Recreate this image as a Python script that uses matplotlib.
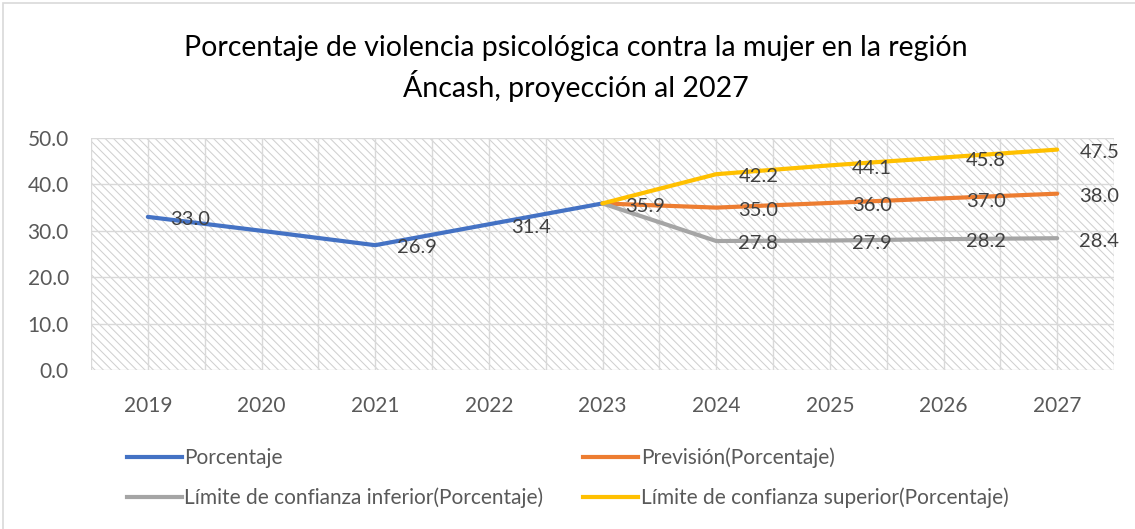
import numpy as np
import matplotlib.pyplot as plt
from matplotlib.patches import Rectangle
from matplotlib.lines import Line2D

plt.rcParams["font.family"] = ["Lato", "DejaVu Sans"]
plt.rcParams["hatch.linewidth"] = 0.75

# ---- data ----
years = ["2019", "2020", "2021", "2022", "2023", "2024", "2025", "2026", "2027"]
porcentaje = [33.0, 30.0, 26.9, 31.4, 35.9, np.nan, np.nan, np.nan, np.nan]
prevision = [np.nan, np.nan, np.nan, np.nan, 35.9, 35.0, 36.0, 37.0, 38.0]
lim_inf = [np.nan, np.nan, np.nan, np.nan, 35.9, 27.8, 27.9, 28.2, 28.4]
lim_sup = [np.nan, np.nan, np.nan, np.nan, 35.9, 42.2, 44.1, 45.8, 47.5]
yticks = [0, 10, 20, 30, 40, 50]

series = [
    ("Porcentaje", porcentaje, "#4472C4", [0, 2, 3]),
    ("Previsión(Porcentaje)", prevision, "#ED7D31", [4, 5, 6, 7, 8]),
    ("Límite de confianza inferior(Porcentaje)", lim_inf, "#A5A5A5", [5, 6, 7, 8]),
    ("Límite de confianza superior(Porcentaje)", lim_sup, "#FFC000", [5, 6, 7, 8]),
]

fig = plt.figure(figsize=(11.35, 5.29), dpi=100)
ax = fig.add_axes([91 / 1135, 1 - 370 / 529, (1114 - 91) / 1135, (370 - 138) / 529])

# hatched plot area
ax.add_patch(Rectangle((0, 0), 1, 1, transform=ax.transAxes, facecolor="white",
                       edgecolor="#d0d0d0", hatch="\\\\\\\\", lw=0, zorder=0))

x = np.arange(len(years))
ax.set_xlim(-0.5, len(years) - 0.5)
ax.set_ylim(0, 50)

for v in np.arange(-0.5, len(years), 0.5):
    ax.axvline(v, color="#d9d9d9", lw=1.0, zorder=1)
for v in yticks:
    ax.axhline(v, color="#d9d9d9", lw=1.0, zorder=1)

handles = {}
for name, vals, col, lab_idx in series:
    ax.plot(x, vals, color=col, lw=3.0, solid_capstyle="round",
            solid_joinstyle="round", zorder=3)
    handles[name] = Line2D([], [], color=col, lw=3.0, label=name)
    for i in lab_idx:
        ax.annotate(f"{vals[i]:.1f}", (x[i], vals[i]), xytext=(16, -2),
                    textcoords="offset points", ha="left", va="center",
                    fontsize=14.5, color="#404040", zorder=4, annotation_clip=False)

ax.set_xticks(x)
ax.set_xticklabels(years)
ax.set_yticks(yticks)
ax.set_yticklabels([f"{v:.1f}" for v in yticks])
ax.tick_params(length=0, labelsize=15, labelcolor="#595959")
ax.tick_params(axis="x", pad=19)
ax.tick_params(axis="y", pad=16)
for s in ax.spines.values():
    s.set_visible(False)

fig.text(0.507, 0.87, "Porcentaje de violencia psicológica contra la mujer en la región\nÁncash, proyección al 2027",
         ha="center", va="center", fontsize=20.5, color="#000000", linespacing=1.35)

# legend fills column by column: order so rows read like the original
order = [series[0][0], series[2][0], series[1][0], series[3][0]]
fig.legend(handles=[handles[n] for n in order], ncol=2, loc="upper left",
           bbox_to_anchor=(108 / 1135, 1 - 429 / 529),
           frameon=False, fontsize=15, handlelength=2.65, handletextpad=0.12,
           columnspacing=1.9, labelspacing=0.92, labelcolor="#595959")

# outer chart border
fig.patches.append(Rectangle((3 / 1135, -0.1), 1.2, 1 - 3 / 529 + 0.1, transform=fig.transFigure,
                             fill=False, edgecolor="#d9d9d9", lw=1.2))

fig.savefig("out.png", dpi=100)
